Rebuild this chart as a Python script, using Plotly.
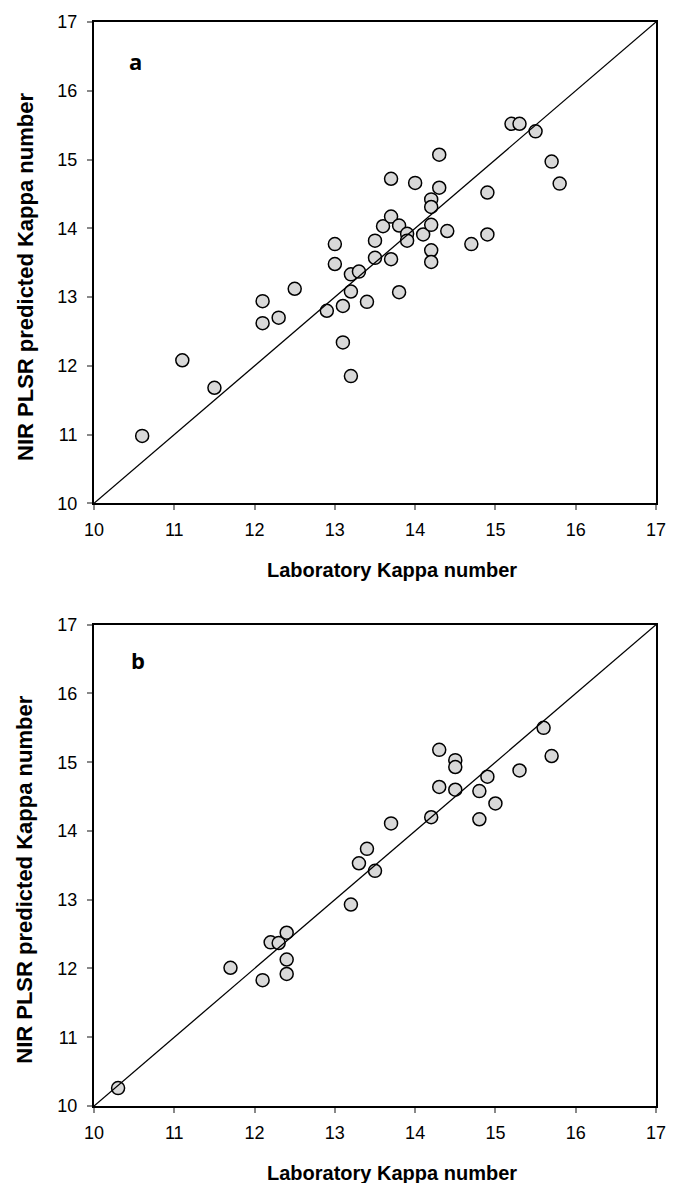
import plotly.graph_objects as go
from plotly.subplots import make_subplots

# Panel a
lab_a = [10.6, 11.1, 11.5, 12.1, 12.1, 12.3, 12.5, 12.9, 13.0, 13.0, 13.1, 13.1, 13.2, 13.2, 13.2,
         13.3, 13.4, 13.5, 13.5, 13.6, 13.7, 13.7, 13.7, 13.8, 13.8, 13.9, 13.9, 14.0, 14.1, 14.2,
         14.2, 14.2, 14.2, 14.2, 14.3, 14.3, 14.4, 14.7, 14.9, 14.9, 15.2, 15.3, 15.5, 15.7, 15.8]
nir_a = [10.98, 12.08, 11.68, 12.94, 12.62, 12.70, 13.12, 12.80, 13.77, 13.48, 12.87, 12.34, 11.85, 13.33, 13.08,
         13.37, 12.93, 13.82, 13.57, 14.03, 14.72, 14.17, 13.55, 14.04, 13.07, 13.92, 13.82, 14.66, 13.91, 14.42,
         14.31, 14.05, 13.68, 13.51, 15.07, 14.59, 13.96, 13.77, 14.52, 13.91, 15.52, 15.52, 15.41, 14.97, 14.65]

# Panel b
lab_b = [10.3, 11.7, 12.1, 12.2, 12.3, 12.4, 12.4, 12.4, 13.2, 13.3, 13.4, 13.5, 13.7, 14.2,
         14.3, 14.3, 14.5, 14.5, 14.5, 14.8, 14.8, 14.9, 15.0, 15.3, 15.6, 15.7]
nir_b = [10.26, 12.01, 11.83, 12.38, 12.37, 12.52, 12.13, 11.92, 12.93, 13.53, 13.74, 13.42, 14.11, 14.20,
         15.18, 14.64, 15.03, 14.93, 14.60, 14.58, 14.17, 14.79, 14.40, 14.88, 15.50, 15.09]

ref_line = [10, 17]
ticks = [10, 11, 12, 13, 14, 15, 16, 17]
panel_labels = ["a", "b"]
x_title = "Laboratory Kappa number"
y_title = "NIR PLSR predicted Kappa number"

FONT = "Liberation Sans, Arial"

fig = make_subplots(rows=2, cols=1, vertical_spacing=0.112)

for i, (xs, ys) in enumerate([(lab_a, nir_a), (lab_b, nir_b)], start=1):
    fig.add_trace(go.Scatter(x=xs, y=ys, mode="markers",
                             marker=dict(size=13, color="#d9d9d9",
                                         line=dict(color="black", width=1.5)),
                             showlegend=False), row=i, col=1)
    fig.add_trace(go.Scatter(x=ref_line, y=ref_line, mode="lines",
                             line=dict(color="black", width=1.3),
                             showlegend=False), row=i, col=1)
    common = dict(range=[10, 17], tickvals=ticks, ticks="outside", ticklen=5,
                  tickcolor="#888888", tickwidth=1.5,
                  showline=True, linecolor="black", linewidth=2, mirror=True,
                  showgrid=False, zeroline=False,
                  tickfont=dict(family=FONT, size=18, color="black"))
    fig.update_xaxes(**common, ticklabelstandoff=4, row=i, col=1)
    fig.update_yaxes(**common, ticklabelstandoff=6, row=i, col=1)

# panel letters
fig.add_annotation(x=10.52, y=16.43, xref="x", yref="y", text="<b>" + panel_labels[0] + "</b>",
                   showarrow=False, font=dict(family="Open Sans, Liberation Sans", size=22, color="black"))
fig.add_annotation(x=10.55, y=16.48, xref="x2", yref="y2", text="<b>" + panel_labels[1] + "</b>",
                   showarrow=False, font=dict(family="Open Sans, Liberation Sans", size=22, color="black"))

# axis titles (placed as annotations to match the offset positions)
for ty, yy in [(0.4945, 0.7647), (-0.0616, 0.2086)]:
    fig.add_annotation(x=0.531, y=ty, xref="paper", yref="paper", text="<b>" + x_title + "</b>",
                       showarrow=False, xanchor="center", yanchor="middle",
                       font=dict(family=FONT, size=20, color="black"))
    fig.add_annotation(x=-0.123, y=yy, xref="paper", yref="paper", text="<b>" + y_title + "</b>",
                       showarrow=False, xanchor="center", yanchor="middle", textangle=-90,
                       font=dict(family=FONT, size=22, color="black"))

fig.update_layout(width=678, height=1183, plot_bgcolor="white", paper_bgcolor="white",
                  margin=dict(l=94, r=15, t=18, b=77))
fig.update_layout(yaxis=dict(domain=[0.556, 1.0]), yaxis2=dict(domain=[0.0, 0.444]))

fig.write_html("out.html", config={"displayModeBar": False},
               post_script="document.body.style.margin='0';document.body.style.overflow='hidden';")
